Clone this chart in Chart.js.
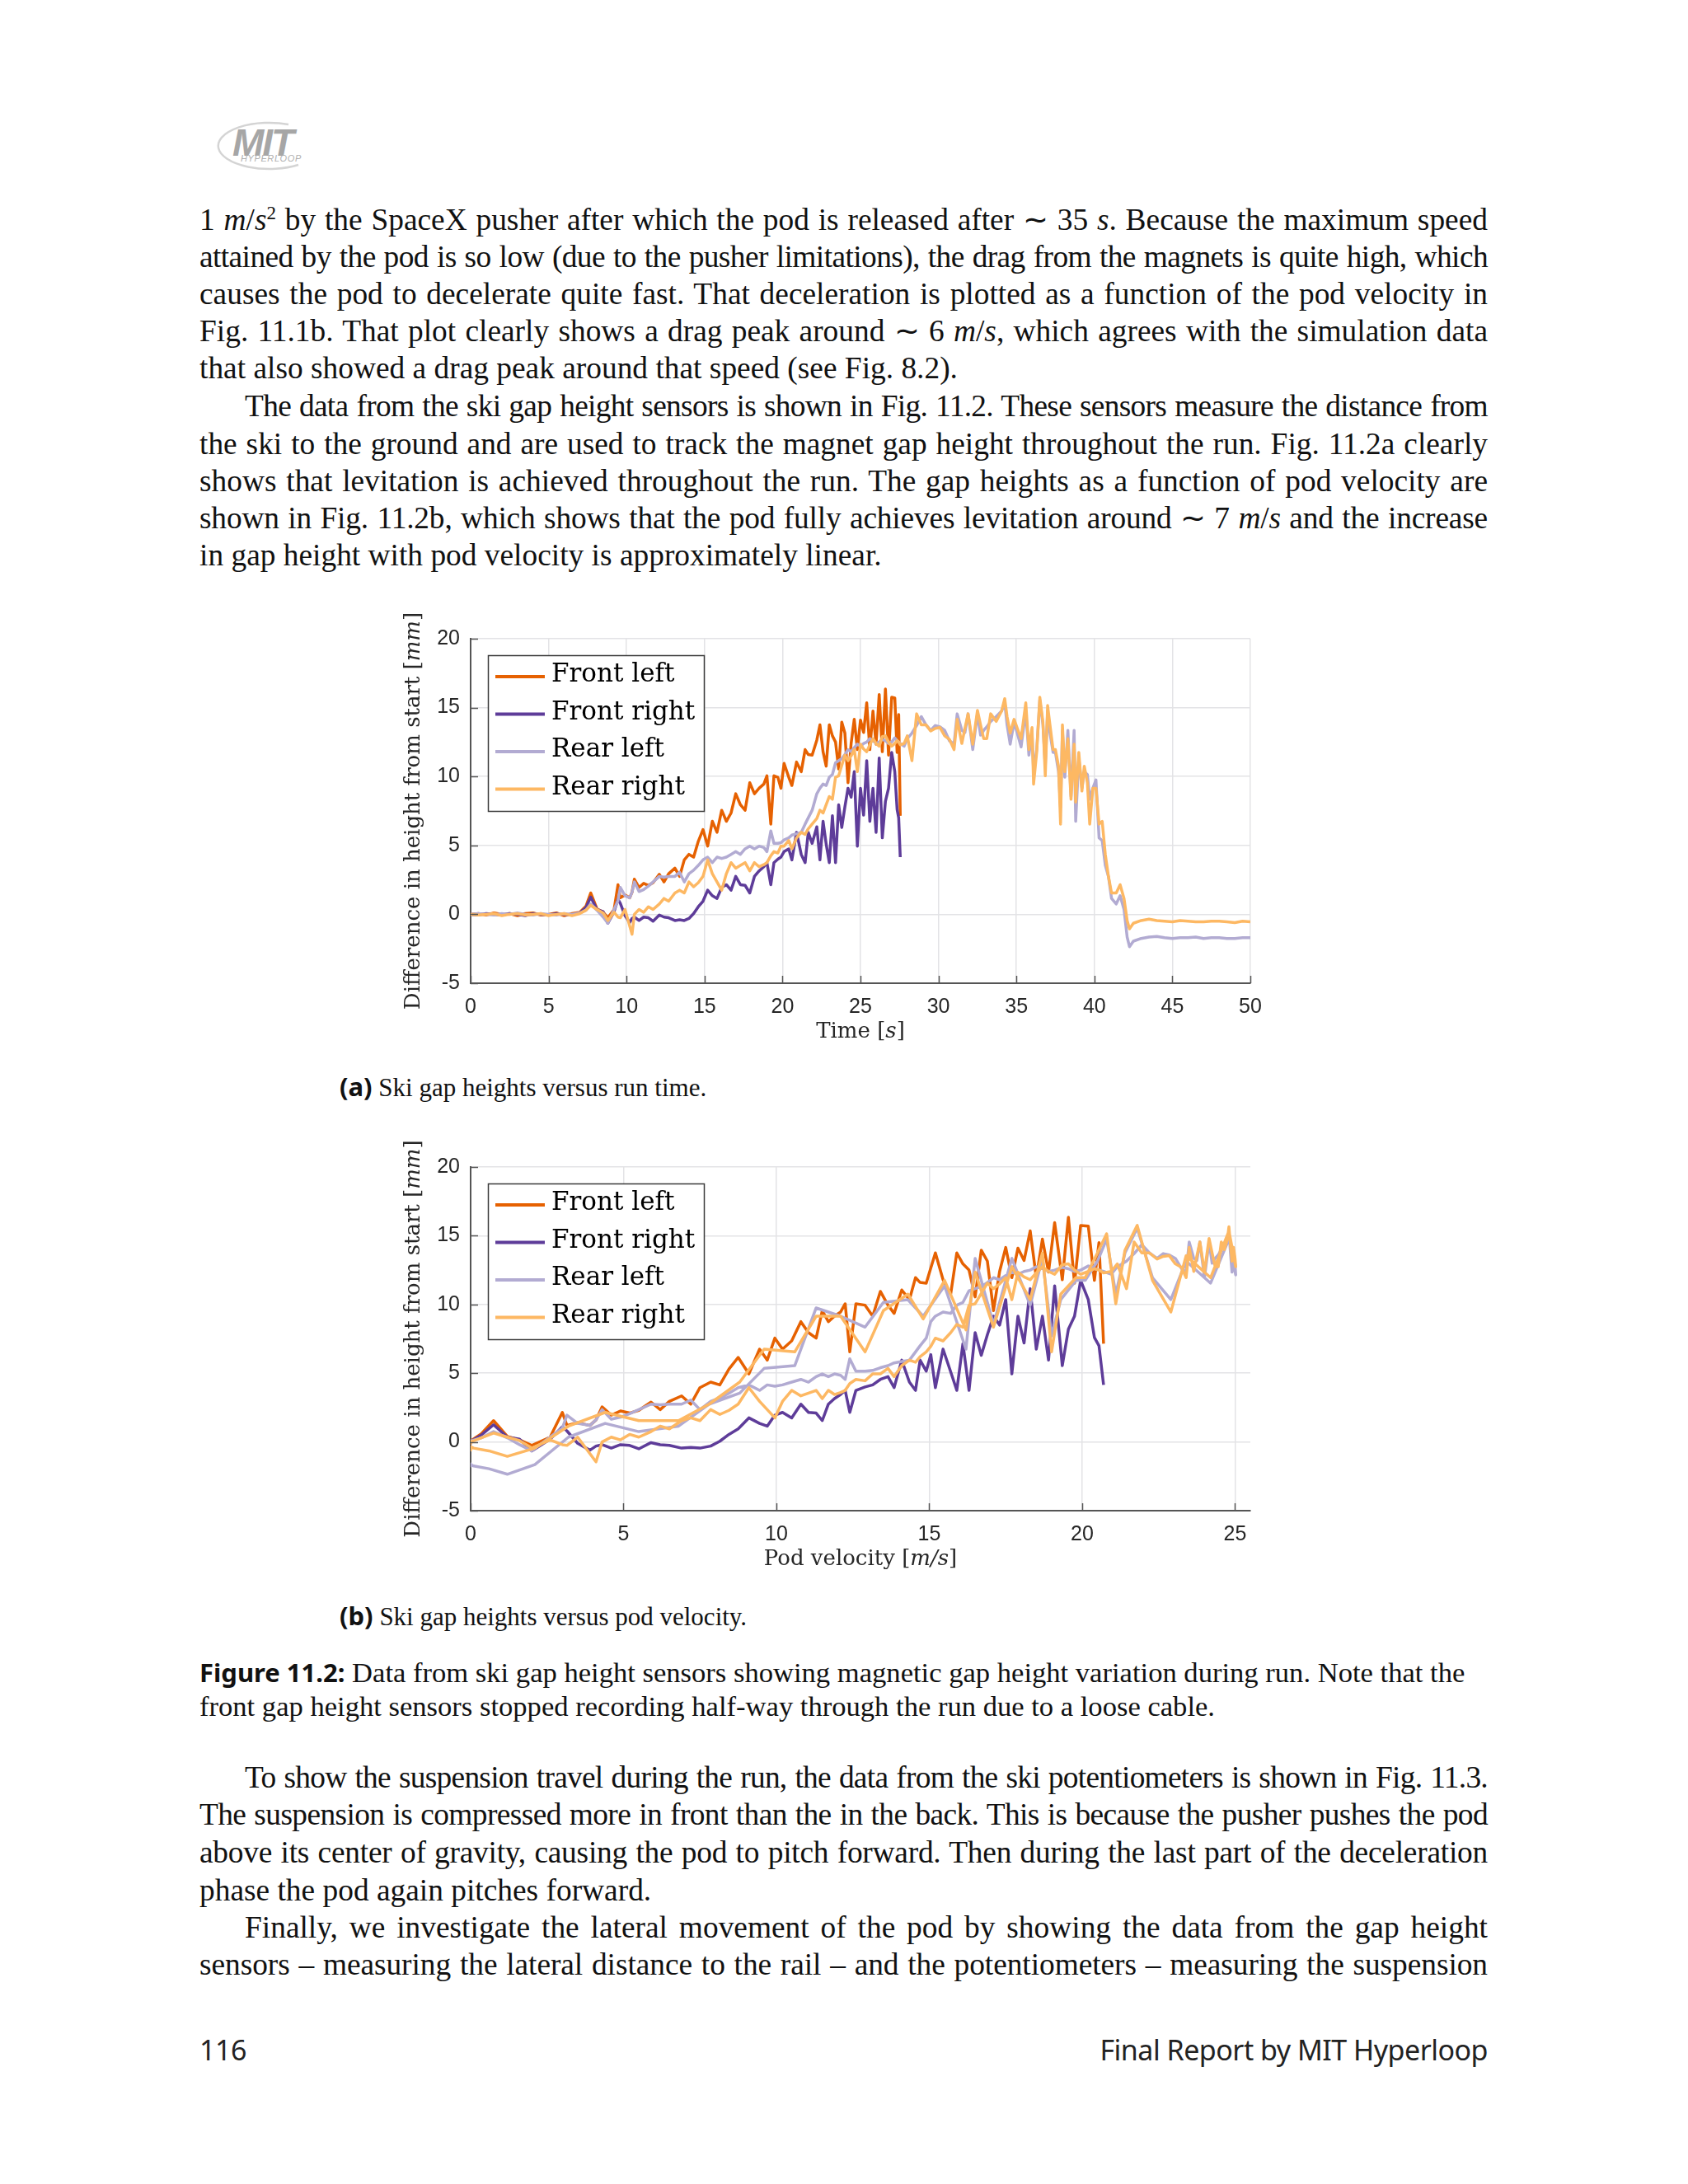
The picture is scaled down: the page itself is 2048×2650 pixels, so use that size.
<!DOCTYPE html>
<html lang="en">
<head>
<meta charset="UTF-8">
<title>Ski gap heights</title>
<script src="https://cdn.jsdelivr.net/npm/chart.js"></script>
<style>
  body { margin: 0; background: #fff; }
  .page { position: relative; width: 2048px; height: 2650px; background: #fff; overflow: hidden; }
  .ln { position: absolute; left: 242px; width: 1563px; font-family: "Liberation Serif", serif; font-size: 37.4px;
        line-height: 46px; white-space: nowrap; color: #111; }
  .j { text-align: justify; text-align-last: justify; }
  .ind { left: 297px; width: 1508px; }
  .cap { font-size: 34.6px; line-height: 40px; }
  .sub { left: 412px; width: auto; font-size: 31px; }
  .bsans { font-family: "Noto Sans", sans-serif; font-weight: bold; font-size: 31px; }
  .foot { position: absolute; top: 2464px; font-family: "Noto Sans", sans-serif; font-size: 34px; color: #222; letter-spacing: -0.5px; }
  canvas { position: absolute; }
</style>
</head>
<body>
<div class="page">

  <!-- logo -->
  <svg style="position:absolute;left:238px;top:142px" width="140" height="70">
    <path d="M 112 9 A 62 28 0 1 0 124 58" fill="none" stroke="#d4d4d4" stroke-width="2.5"/>
  </svg>
  <div style="position:absolute;left:282px;top:146px;font:italic bold 46px 'Liberation Sans',sans-serif;color:#a6a6a6;letter-spacing:-2px;">MIT</div>
  <div style="position:absolute;left:292px;top:186px;font:italic 11px 'Liberation Sans',sans-serif;color:#b0b0b0;letter-spacing:0.6px;">HYPERLOOP</div>

  <div class="ln j" style="top:244px">1 <i>m</i>/<i>s</i><sup style="font-size:23px;line-height:0">2</sup> by the SpaceX pusher after which the pod is released after ∼ 35 <i>s</i>. Because the maximum speed</div>
  <div class="ln j" style="top:289px">attained by the pod is so low (due to the pusher limitations), the drag from the magnets is quite high, which</div>
  <div class="ln j" style="top:334px">causes the pod to decelerate quite fast. That deceleration is plotted as a function of the pod velocity in</div>
  <div class="ln j" style="top:379px">Fig. 11.1b. That plot clearly shows a drag peak around ∼ 6 <i>m</i>/<i>s</i>, which agrees with the simulation data</div>
  <div class="ln" style="top:424px">that also showed a drag peak around that speed (see Fig. 8.2).</div>

  <div class="ln j ind" style="top:470px">The data from the ski gap height sensors is shown in Fig. 11.2. These sensors measure the distance from</div>
  <div class="ln j" style="top:516px">the ski to the ground and are used to track the magnet gap height throughout the run. Fig. 11.2a clearly</div>
  <div class="ln j" style="top:561px">shows that levitation is achieved throughout the run. The gap heights as a function of pod velocity are</div>
  <div class="ln j" style="top:606px">shown in Fig. 11.2b, which shows that the pod fully achieves levitation around ∼ 7 <i>m</i>/<i>s</i> and the increase</div>
  <div class="ln" style="top:651px">in gap height with pod velocity is approximately linear.</div>

  <canvas id="chartA" width="1067" height="573" style="left:480px;top:700px"></canvas>
  <div class="ln sub" style="top:1295px"><span class="bsans">(a)</span> Ski gap heights versus run time.</div>

  <canvas id="chartB" width="1067" height="572" style="left:480px;top:1341px"></canvas>
  <div class="ln sub" style="top:1937px"><span class="bsans">(b)</span> Ski gap heights versus pod velocity.</div>

  <div class="ln cap" style="top:2009px"><span class="bsans">Figure 11.2:</span> Data from ski gap height sensors showing magnetic gap height variation during run. Note that the</div>
  <div class="ln cap" style="top:2050px">front gap height sensors stopped recording half-way through the run due to a loose cable.</div>

  <div class="ln j ind" style="top:2134px">To show the suspension travel during the run, the data from the ski potentiometers is shown in Fig. 11.3.</div>
  <div class="ln j" style="top:2179px">The suspension is compressed more in front than the in the back. This is because the pusher pushes the pod</div>
  <div class="ln j" style="top:2225px">above its center of gravity, causing the pod to pitch forward. Then during the last part of the deceleration</div>
  <div class="ln" style="top:2271px">phase the pod again pitches forward.</div>
  <div class="ln j ind" style="top:2316px">Finally, we investigate the lateral movement of the pod by showing the data from the gap height</div>
  <div class="ln j" style="top:2361px">sensors – measuring the lateral distance to the rail – and the potentiometers – measuring the suspension</div>

  <div class="foot" style="left:242px">116</div>
  <div class="foot" style="right:243px">Final Report by MIT Hyperloop</div>
</div>

<script>
    // run time [s], shared by all four sensors
    const timeS = [
        0, 0.5, 1, 1.5, 2, 2.5, 3, 3.5, 4, 4.5, 5, 5.5, 6, 6.5, 7,
        7.4, 7.7, 8.1, 8.5, 8.8, 9.2, 9.45, 9.6, 9.9, 10.2,
        10.35, 10.5, 10.8, 11.1, 11.4, 11.7, 12.1, 12.4, 12.7, 13.1,
        13.4, 13.7, 14.0, 14.3, 14.6, 14.9, 15.2, 15.5, 15.8, 16.1,
        16.4, 16.7, 17.0, 17.3, 17.6, 17.9, 18.2, 18.5, 18.8, 19.0,
        19.25, 19.45, 19.7, 19.9, 20.1, 20.4, 20.6, 20.9, 21.2, 21.45,
        21.65, 21.9, 22.2, 22.4, 22.6, 22.8, 23.0, 23.2, 23.4, 23.6,
        23.8, 24.0, 24.2, 24.4, 24.6, 24.8, 25.0, 25.2, 25.4, 25.6,
        25.8, 26.0, 26.2, 26.4, 26.6, 26.8, 27.0, 27.2, 27.35, 27.45,
        27.55,
        27.8, 28.0, 28.3, 28.6, 28.9, 29.2, 29.5, 29.8, 30.1, 30.4,
        30.7, 31.0, 31.2, 31.5, 31.7, 31.9, 32.2, 32.5, 32.7, 32.9,
        33.1, 33.35, 33.7, 34.05, 34.25, 34.4, 34.6, 34.85, 35.1, 35.3,
        35.6, 35.8, 36.0, 36.1, 36.3, 36.5, 36.7, 36.85, 37.0, 37.15,
        37.35, 37.5, 37.7, 37.83, 37.95, 38.1, 38.3, 38.5, 38.7, 38.8,
        39.0, 39.2, 39.35, 39.55, 39.7, 39.9, 40.1, 40.3, 40.5, 40.7,
        40.9, 41.1, 41.4, 41.65, 41.9, 42.1, 42.25, 42.5, 43.0, 43.5,
        44.0, 44.5, 45.0, 45.5, 46.0, 46.5, 47.0, 47.5, 48.0, 48.5, 49.0, 49.5, 50.0
    ];

    // pod velocity [m/s] at the same instants
    const podVelocity = [
        0, 0, 0, 0, 0, 0, 0, 0, 0, 0, 0, 0, 0, 0, 0.05,
        0.35, 0.75, 1.2, 1.6, 2.0, 2.6, 3.0, 3.15, 3.5, 3.9,
        4.1, 4.3, 4.6, 4.9, 5.2, 5.5, 5.9, 6.2, 6.5, 6.9,
        7.2, 7.5, 7.85, 8.15, 8.45, 8.75, 9.1, 9.45, 9.7, 9.95,
        10.2, 10.5, 10.8, 11.05, 11.3, 11.5, 11.7, 11.9, 12.1, 12.25,
        12.4, 12.6, 12.9, 13.15, 13.4, 13.65, 13.85, 14.1, 14.35, 14.55,
        14.7, 14.9, 15.05, 15.2, 15.45, 15.7, 15.9, 16.1, 16.3, 16.5,
        16.7, 16.9, 17.1, 17.3, 17.5, 17.7, 17.9, 18.1, 18.3, 18.5,
        18.7, 18.9, 19.1, 19.35, 19.55, 19.75, 19.95, 20.2, 20.4, 20.55,
        20.7,
        20.95, 21.15, 21.45, 21.7, 21.95, 22.2, 22.45, 22.65, 22.85, 23.05,
        23.25, 23.4, 23.5, 23.65, 23.75, 23.85, 24.0, 24.15, 24.25, 24.35,
        24.45, 24.55, 24.65, 24.75, 24.8, 24.85, 24.9, 24.95, 25.0, 25.02,
        24.8, 24.2, 23.4, 22.9, 22.3, 21.8, 21.4, 21.1, 20.8, 20.5,
        20.1, 19.8, 19.3, 19.0, 18.7, 18.3, 17.7, 17.1, 16.5, 16.2,
        15.5, 14.8, 14.3, 13.5, 12.9, 12.1, 11.3, 10.6, 9.6, 8.8,
        7.8, 6.8, 5.5, 4.4, 3.2, 2.1, 1.2, 0.6, 0.1, 0,
        0, 0, 0, 0, 0, 0, 0, 0, 0, 0, 0, 0, 0
    ];

    // gap height change [mm]; the front sensors stop at 27.55 s
    const frontLeft = [
        0, 0.05, -0.05, 0.1, 0, 0.05, -0.1, 0.05, 0.1, -0.05, 0, 0.1, -0.1, 0.05, 0.15,
        0.6, 1.55, 0.4, 0.15, -0.25, 0.35, 2.15, 1.2, 1.4, 1.2,
        1.6, 2.55, 1.95, 2.25, 2.1, 2.3, 2.9, 2.35, 2.95, 3.35,
        2.75, 3.95, 4.35, 4.15, 5.3, 6.15, 4.95, 6.75, 5.95, 7.55,
        6.75, 7.35, 8.75, 7.95, 7.55, 9.55, 8.75, 9.15, 9.45, 10.05,
        6.55, 10.05, 9.95, 9.15, 10.95, 9.95, 9.35, 11.05, 10.35, 11.95,
        11.6, 11.55, 12.65, 13.75, 11.8, 10.75, 13.75, 12.95, 12.5, 10.55,
        13.95, 13.15, 9.55, 12.4, 14.15, 11.95, 14.1, 13.2, 15.35, 11.95,
        14.75, 12.35, 15.95, 11.8, 16.35, 11.55, 15.75, 15.7, 11.75, 14.5,
        7.15
    ];

    const frontRight = [
        0, -0.05, 0.05, 0, -0.05, 0.05, 0, -0.1, 0.05, 0, -0.05, 0.05, 0, -0.05, 0.1,
        0.5, 1.25, 0.35, 0.2, -0.65, 0.2, 1.1, 0.8, -0.1, -0.6,
        -0.3, -0.2, -0.45, -0.2, -0.25, -0.5, -0.05, -0.2, -0.25, -0.45,
        -0.4, -0.45, -0.3, 0.05, 0.55, 0.95, 1.75, 1.35, 1.15, 1.95,
        2.15, 1.75, 2.75, 2.15, 2.1, 1.55, 2.75, 3.15, 3.45, 3.75,
        2.15, 3.75, 4.0, 4.15, 4.55, 4.75, 3.95, 5.95, 4.35, 3.75,
        5.95, 5.15, 6.35, 3.95, 6.75, 5.1, 3.75, 7.15, 3.75, 7.95,
        6.3, 7.8, 9.15, 8.5, 10.35, 4.95, 9.15, 7.2, 11.15, 6.75,
        9.15, 5.95, 11.35, 5.55, 8.2, 9.15, 11.75, 10.35, 7.6, 7.0,
        4.15
    ];

    const rearLeft = [
        0, 0.05, 0, -0.05, 0.05, 0, 0.1, 0, -0.05, 0.05, 0, -0.05, 0.05, 0, 0.1,
        0.3, 0.75, 0.3, -0.2, -0.65, 0.35, 1.0, 1.95, 1.35, 1.2,
        1.6, 2.35, 1.65, 1.8, 2.05, 2.35, 2.75, 2.7, 2.75, 2.75,
        3.05, 2.35, 2.95, 3.2, 3.55, 3.95, 4.15, 3.75, 4.15, 4.05,
        4.15, 4.35, 4.55, 4.35, 4.75, 4.95, 4.75, 4.95, 4.85, 4.55,
        6.05, 5.15, 5.15, 5.2, 5.4, 5.55, 5.75, 5.85, 5.95, 6.55,
        7.0, 7.55, 8.75, 9.15, 9.45, 9.35, 9.95, 10.15, 11.0, 11.15,
        11.3, 11.6, 11.95, 11.8, 12.1, 12.35, 12.2, 12.4, 12.5, 12.75,
        12.6, 12.4, 12.5, 12.7, 12.6, 12.4, 12.5, 12.8, 12.6, 12.5,
        12.4,
        12.2, 12.75, 13.15, 13.7, 14.35, 13.75, 13.35, 13.7, 13.6, 13.35,
        12.6, 12.35, 14.55, 13.35, 13.2, 14.55, 11.95, 14.55, 13.0, 13.35,
        13.6, 14.0, 14.35, 14.75, 15.35, 13.75, 12.35, 13.95, 12.95, 12.15,
        14.75, 11.55, 13.15, 10.35, 11.95, 15.55, 13.75, 10.75, 14.75, 13.15,
        11.75, 11.75, 10.35, 7.75, 13.35, 9.95, 13.35, 8.55, 13.35, 6.75,
        11.35, 9.15, 10.35, 10.15, 8.35, 9.15, 9.75, 5.55, 5.35, 3.55,
        2.75, 1.15, 0.75, 1.35, 0.35, -1.65, -2.35, -1.95, -1.75, -1.65,
        -1.6, -1.7, -1.75, -1.7, -1.7, -1.65, -1.75, -1.7, -1.7, -1.75, -1.75, -1.7, -1.7
    ];

    const rearRight = [
        0, -0.05, 0, 0.05, -0.1, 0, 0.05, -0.05, 0, 0.05, -0.1, 0, 0.05, -0.1, 0.05,
        0.3, 0.65, 0.35, 0.1, -0.45, 0.15, -0.2, -0.25, 0.35, -0.85,
        -1.45, 0.0, 0.35, 0.15, 0.55, 0.35, 0.75, 1.15, 0.95, 1.55,
        1.75, 1.55, 2.35, 2.0, 2.3, 2.75, 3.95, 2.95, 2.35, 1.75,
        2.95, 3.75, 3.35, 3.55, 3.75, 3.15, 3.75, 3.45, 3.6, 3.75,
        4.25, 4.55, 4.45, 4.95, 4.95, 5.35, 4.75, 5.55, 5.95, 5.8,
        6.2, 6.55, 6.95, 7.55, 7.35, 7.95, 8.55, 8.35, 9.95, 10.05,
        10.8, 11.55, 11.15, 11.5, 11.95, 10.35, 12.35, 12.0, 11.8, 12.3,
        12.75, 12.4, 12.2, 12.9, 12.95, 12.5, 12.2, 12.4, 12.6, 12.5,
        12.3,
        12.4, 12.95, 11.15, 14.55, 13.75, 13.75, 13.3, 13.5, 13.55, 12.95,
        12.7, 11.95, 14.15, 12.4, 13.5, 14.55, 12.35, 14.8, 13.75, 12.75,
        12.75, 14.55, 14.0, 14.75, 15.65, 14.35, 13.15, 14.15, 13.35, 12.75,
        15.35, 11.95, 13.55, 9.45, 11.75, 15.75, 13.95, 10.05, 15.15, 13.75,
        11.95, 11.95, 10.75, 6.55, 13.75, 10.35, 12.75, 8.35, 12.35, 8.15,
        11.75, 8.95, 10.75, 9.55, 6.55, 9.15, 9.15, 6.55, 6.75, 4.35,
        2.75, 1.55, 1.55, 2.15, 1.15, -0.45, -1.05, -0.65, -0.45, -0.35,
        -0.45, -0.5, -0.55, -0.45, -0.5, -0.55, -0.55, -0.5, -0.5, -0.55, -0.6, -0.5, -0.55
    ];

    const seriesLabels = ['Front left', 'Front right', 'Rear left', 'Rear right'];
    const seriesColors = ['#e66101', '#5e3c99', '#b2abd2', '#fdb863'];
    const allSeries = [frontLeft, frontRight, rearLeft, rearRight];

    // axis titles, odd pieces are set in italics (math units)
    const yTitle = ['Difference in height from start [', 'mm', ']'];
    const xTitleA = ['Time [', 's', ']'];
    const xTitleB = ['Pod velocity [', 'm/s', ']'];

    // keep justified lines from overflowing the text block
    document.querySelectorAll('.j').forEach(el => {
        el.style.textAlign = 'left';
        el.style.textAlignLast = 'left';
        let r = document.createRange();
        r.selectNodeContents(el);
        let natural = r.getBoundingClientRect().width;
        let room = el.clientWidth - 24;
        if (natural > room) {
            el.style.letterSpacing = ((room - natural) / el.textContent.length).toFixed(3) + 'px';
        }
        el.style.textAlign = '';
        el.style.textAlignLast = '';
    });

    Chart.defaults.font.family = '"Liberation Sans", Arial, sans-serif';
    Chart.defaults.color = '#262626';

    function drawPieces(ctx, pieces, cx, cy) {
        let widths = pieces.map((p, i) => {
            ctx.font = (i % 2 ? 'italic ' : '') + '26px "DejaVu Serif", serif';
            return ctx.measureText(p).width;
        });
        let x = cx - widths.reduce((a, b) => a + b, 0) / 2;
        pieces.forEach((p, i) => {
            ctx.font = (i % 2 ? 'italic ' : '') + '26px "DejaVu Serif", serif';
            ctx.fillText(p, x, cy);
            x += widths[i];
        });
    }

    // inward tick marks, axis titles and the boxed legend, MATLAB style
    const matlabDecor = {
        id: 'matlabDecor',
        afterDraw(chart, args, opts) {
            const {ctx, chartArea, scales} = chart;
            ctx.save();
            ctx.strokeStyle = '#555';
            ctx.lineWidth = 1.5;
            scales.x.ticks.forEach(t => {
                const x = Math.round(scales.x.getPixelForValue(t.value)) + 0.5;
                ctx.beginPath();
                ctx.moveTo(x, chartArea.bottom);
                ctx.lineTo(x, chartArea.bottom - 9);
                ctx.stroke();
            });
            scales.y.ticks.forEach(t => {
                const y = Math.round(scales.y.getPixelForValue(t.value)) + 0.5;
                ctx.beginPath();
                ctx.moveTo(chartArea.left, y);
                ctx.lineTo(chartArea.left + 9, y);
                ctx.stroke();
            });

            ctx.fillStyle = '#262626';
            ctx.textAlign = 'left';
            ctx.textBaseline = 'middle';
            drawPieces(ctx, opts.xTitle, (chartArea.left + chartArea.right) / 2, chartArea.bottom + 59);
            ctx.save();
            ctx.translate(chartArea.left - 69, (chartArea.top + chartArea.bottom) / 2);
            ctx.rotate(-Math.PI / 2);
            drawPieces(ctx, opts.yTitle, 0, 0);
            ctx.restore();

            const lx = chartArea.left + 21, ly = chartArea.top + 20;
            ctx.fillStyle = '#fff';
            ctx.fillRect(lx, ly, 262, 189);
            ctx.strokeStyle = '#3a3a3a';
            ctx.lineWidth = 1.5;
            ctx.strokeRect(lx + 0.5, ly + 0.5, 262, 189);
            ctx.font = '31px "DejaVu Serif", serif';
            chart.data.datasets.forEach((ds, i) => {
                const y = ly + 26 + i * 45.5;
                ctx.strokeStyle = ds.borderColor;
                ctx.lineWidth = 4;
                ctx.beginPath();
                ctx.moveTo(lx + 9, y);
                ctx.lineTo(lx + 69, y);
                ctx.stroke();
                ctx.fillStyle = '#000';
                ctx.fillText(ds.label, lx + 77, y - 2);
            });
            ctx.restore();
        }
    };

    function makeChart(id, xValues, xMax, xTitle) {
        let datasets = allSeries.map((vals, i) => ({
            label: seriesLabels[i],
            data: vals.map((y, k) => ({x: xValues[k], y: y})),
            borderColor: seriesColors[i],
            backgroundColor: seriesColors[i],
            borderWidth: 3.5,
            borderJoinStyle: 'round',
            pointRadius: 0,
            tension: 0,
            fill: false,
            order: 4 - i
        }));

        return new Chart(document.getElementById(id), {
            type: 'line',
            data: { datasets: datasets },
            options: {
                responsive: false,
                animation: false,
                devicePixelRatio: 1,
                layout: { padding: { top: 75, right: 30, left: 0, bottom: 0 } },
                plugins: {
                    legend: { display: false },
                    tooltip: { enabled: false },
                    matlabDecor: { xTitle: xTitle, yTitle: yTitle }
                },
                scales: {
                    x: {
                        type: 'linear', min: 0, max: xMax,
                        afterFit: s => { s.height = 80; },
                        ticks: { stepSize: 5, includeBounds: false, padding: 14, maxRotation: 0,
                                 font: { size: 25 }, callback: v => String(v) },
                        grid: { color: '#e3e3e6', lineWidth: 1.5, drawTicks: false },
                        border: { color: '#555', width: 2 }
                    },
                    y: {
                        min: -5, max: 20,
                        afterFit: s => { s.width = 91; },
                        ticks: { stepSize: 5, padding: 13, font: { size: 25 }, callback: v => String(v) },
                        grid: { color: '#e3e3e6', lineWidth: 1.5, drawTicks: false },
                        border: { color: '#555', width: 2 }
                    }
                }
            },
            plugins: [matlabDecor]
        });
    }

    makeChart('chartA', timeS, 50, xTitleA);
    makeChart('chartB', podVelocity, 25.5, xTitleB);
</script>
</body>
</html>
